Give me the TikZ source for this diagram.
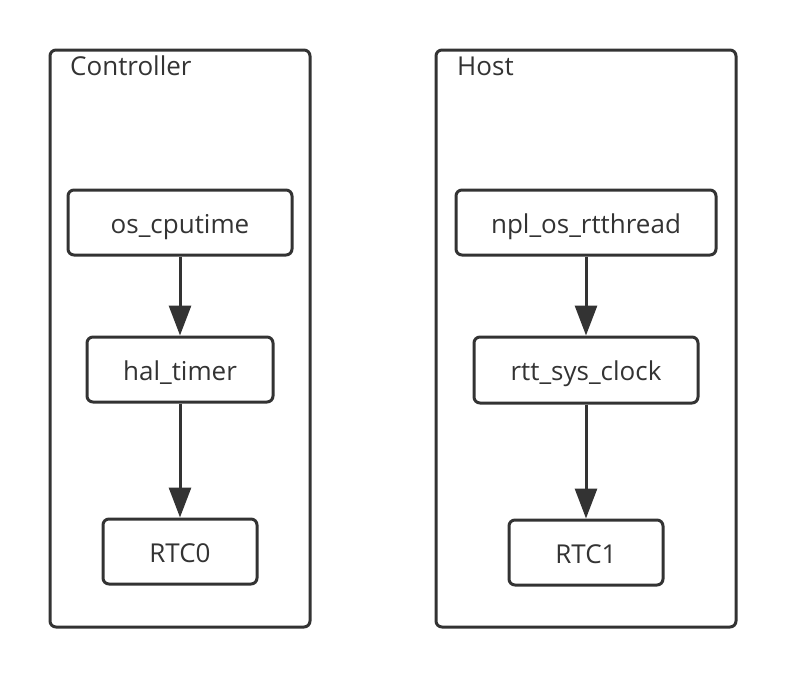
\documentclass[tikz,border=0pt]{standalone}
\usepackage{fontspec}
\setmainfont{Open Sans}
\usetikzlibrary{arrows.meta}
\definecolor{ink}{HTML}{333333}
\begin{document}
\begin{tikzpicture}[x=1pt,y=-1pt,
  frame/.style={draw=ink,line width=3pt,rounded corners=6pt},
  compbox/.style={draw=ink,line width=3pt,rounded corners=6pt,font=\fontsize{26}{30}\selectfont,text=ink,inner sep=0pt,text height=21pt,text depth=0pt},
  flow/.style={draw=ink,line width=3pt,-{Triangle[width=22pt,length=30pt]},shorten >=0pt},
  ttl/.style={font=\fontsize{26}{30}\selectfont,text=ink,anchor=base west,inner sep=0pt}]
\useasboundingbox (0,0) rectangle (786,678);
\draw[frame] (50,50) rectangle (310,627);
\draw[frame] (436,50) rectangle (736,627);
\node[ttl] (tc) at (70,75.5) {Controller};
\node[ttl] (th) at (457,75.5) {Host};
\node[compbox,minimum width=224pt,minimum height=65pt] (a1) at (180,222.5) {os\_cputime};
\node[compbox,minimum width=186pt,minimum height=65pt] (a2) at (180,369.5) {hal\_timer};
\node[compbox,minimum width=154pt,minimum height=65pt] (a3) at (180,551.5) {RTC0};
\node[compbox,minimum width=260pt,minimum height=65pt] (b1) at (586,222.5) {npl\_os\_rtthread};
\node[compbox,minimum width=224pt,minimum height=66pt] (b2) at (586,370) {rtt\_sys\_clock};
\node[compbox,minimum width=154pt,minimum height=65pt] (b3) at (586,552.5) {RTC1};
\draw[flow] (a1) -- (a2);
\draw[flow] (a2) -- (a3);
\draw[flow] (b1) -- (b2);
\draw[flow] (b2) -- (b3);
\end{tikzpicture}
\end{document}
